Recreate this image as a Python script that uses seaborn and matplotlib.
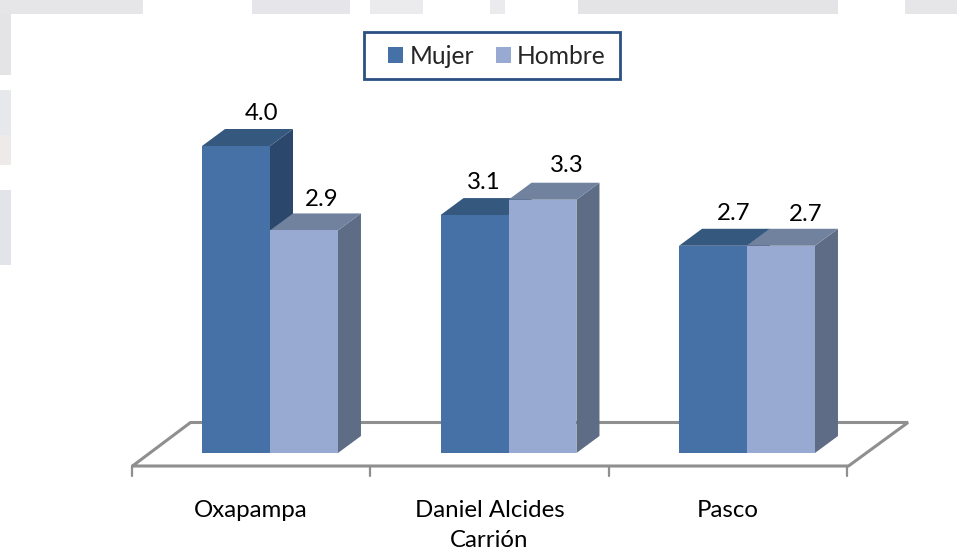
import matplotlib
matplotlib.use("Agg")
import matplotlib.pyplot as plt
from matplotlib.patches import Rectangle, Polygon
import pandas as pd
import seaborn as sns

categories = ["Oxapampa", "Daniel Alcides\nCarrión", "Pasco"]
mujer = [4.0, 3.1, 2.7]
hombre = [2.9, 3.3, 2.7]

W, H = 957, 552
PX_X = 238.5   # px per category
PX_Y = 76.75   # px per unit
X0, Y0 = 270.0, 453.0  # px of category 0, value 0
DX, DY = 23 / PX_X, 17 / PX_Y
FS = 17.3

sns.set_theme(style="white")
plt.rcParams["font.family"] = ["Lato", "DejaVu Sans"]

df = pd.DataFrame({
    "cat": categories * 2,
    "sexo": ["Mujer"] * 3 + ["Hombre"] * 3,
    "valor": mujer + hombre,
})

fig = plt.figure(figsize=(W / 100, H / 100), dpi=100, facecolor="white")

def fig_rect(x0, y0, x1, y1, **kw):
    return Rectangle((x0 / W, 1 - y1 / H), (x1 - x0) / W, (y1 - y0) / H,
                     transform=fig.transFigure, **kw)

# faded background picture showing around the white panel
for a, b, c in [(0, 143, "#e6e6e9"), (252, 350, "#e6e6ea"), (370, 423, "#ebebee"),
                (490, 505, "#ebebee"), (578, 838, "#e4e4e6"), (905, 957, "#e6e6e8")]:
    fig.add_artist(fig_rect(a, 0, b, 14, facecolor=c, edgecolor="none", zorder=-5))
for a, b, c in [(14, 75, "#e4e4e6"), (90, 135, "#e6e8ec"), (135, 165, "#eeeaea"),
                (190, 265, "#e2e4ea")]:
    fig.add_artist(fig_rect(0, a, 11, b, facecolor=c, edgecolor="none", zorder=-5))

ax = fig.add_axes([0, 0, 1, 1])
ax.patch.set_visible(False)
ax.set_zorder(6)

front = {"Mujer": "#4571A7", "Hombre": "#98AAD2"}
top = {"Mujer": "#35587F", "Hombre": "#71829F"}
side = {"Mujer": "#2B486C", "Hombre": "#5E6C86"}
order = ["Mujer", "Hombre"]

sns.barplot(data=df, x="cat", y="valor", hue="sexo", hue_order=order,
            palette=front, width=0.57, gap=0, dodge=True, saturation=1,
            errorbar=None, legend=False, ax=ax, linewidth=0)

ax.set_xlim(-X0 / PX_X, (W - X0) / PX_X)
ax.set_ylim(-(H - Y0) / PX_Y, Y0 / PX_Y)
ax.set_xlabel("")
ax.set_ylabel("")
ax.set_xticks([])
ax.set_yticks([])
for s in ax.spines.values():
    s.set_visible(False)

# 3D faces derived from each bar; the second series sits above the first
for k, (name, cont) in enumerate(zip(order, ax.containers)):
    base = 3 + k
    for bar in cont:
        bar.set_zorder(base + 0.2)
        x0, w, h = bar.get_x(), bar.get_width(), bar.get_height()
        x1 = x0 + w
        ax.add_patch(Polygon([(x1, 0), (x1 + DX, DY), (x1 + DX, h + DY), (x1, h)],
                             facecolor=side[name], edgecolor="none", zorder=base))
        ax.add_patch(Polygon([(x0, h), (x0 + DX, h + DY), (x1 + DX, h + DY), (x1, h)],
                             facecolor=top[name], edgecolor="none", zorder=base + 0.1))

# floor
def px(x, y):
    return (x - X0) / PX_X, (Y0 - y) / PX_Y

grey = "#8f8f8f"
floor = [px(132.5, 466), px(190.5, 422.5), px(908, 422.5), px(848.5, 466), px(132.5, 466)]
ax.plot(*zip(*floor), color=grey, lw=2.2, zorder=1, solid_joinstyle="miter")

# boundary ticks and category labels on the floor's front edge
bounds = [i - 0.5 - 19 / PX_X for i in range(4)]
centers = [i - 19 / PX_X for i in range(3)]
for b in bounds:
    ax.plot([b, b], [px(0, 466)[1], px(0, 476)[1]], color=grey, lw=1.6, zorder=1)
for c, lab in zip(centers, categories):
    ax.annotate(lab, (c, px(0, 466)[1]), xytext=(0, -(500 - 466) * 0.72),
                textcoords="offset points", ha="center", va="top",
                fontsize=FS, color="#000000", linespacing=1.55)

# value labels: Oxapampa M,H ; Daniel M,H ; Pasco M,H
offs = [(25, 32), (18, 31), (9, 33), (24, 34), (21, 32), (25, 31)]
bars = list(ax.containers[0]) + list(ax.containers[1])
vals = mujer + hombre
idx = [0, 3, 1, 4, 2, 5]
for (ox, oy), i in zip(offs, idx):
    bar = bars[i]
    ax.annotate(f"{vals[i]:.1f}", (bar.get_x() + bar.get_width() / 2, bar.get_height()),
                xytext=(ox * 0.72, oy * 0.72), textcoords="offset points",
                ha="center", va="center", fontsize=FS, color="#000000", zorder=6)

# legend
fig.add_artist(fig_rect(364, 32, 620, 79, facecolor="white", edgecolor="#2A5082",
                        linewidth=2, zorder=5))
handles = [Rectangle((0, 0), 1, 1, facecolor=front[n], edgecolor="none") for n in order]
leg = ax.legend(handles, order, loc="center", bbox_to_anchor=(497 / W, 1 - 56 / H),
                bbox_transform=fig.transFigure, ncol=2, frameon=False, fontsize=FS + 0.4,
                handlelength=0.6, handleheight=0.6, handletextpad=0.26, columnspacing=0.9,
                borderpad=0, borderaxespad=0)
leg.set_zorder(7)

fig.savefig("out.png", dpi=100, facecolor="white")
